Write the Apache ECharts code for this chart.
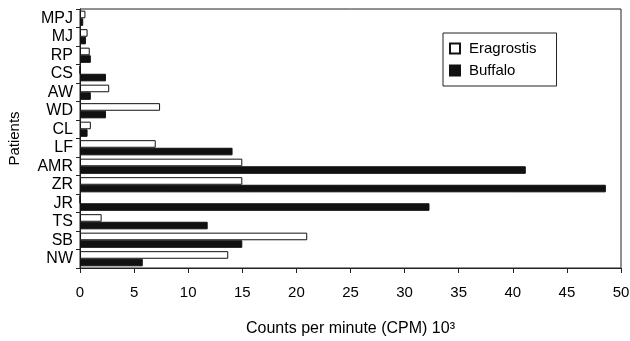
<!DOCTYPE html>
<html><head><meta charset="utf-8">
<script src="https://cdn.jsdelivr.net/npm/echarts@6/dist/echarts.min.js"></script>
<style>html,body{margin:0;padding:0;background:#fff}#c{width:630px;height:341px}</style>
</head><body><div id="c"></div>
<script>
const patients = ['MPJ','MJ','RP','CS','AW','WD','CL','LF','AMR','ZR','JR','TS','SB','NW'];
const eragrostis = [0.5,0.7,0.9,0,2.7,7.4,1.0,7.0,15.0,15.0,0,2.0,21.0,13.7];
const buffalo = [0.3,0.55,1.0,2.4,1.0,2.4,0.7,14.1,41.2,48.6,32.3,11.8,15.0,5.8];
const xTicks = [0,5,10,15,20,25,30,35,40,45,50];

const chart = echarts.init(document.getElementById('c'));
const font = 'Liberation Sans, Arial, sans-serif';
chart.setOption({
  animation:false,
  backgroundColor:'#fff',
  grid:{left:80,right:9,top:9,bottom:73,show:true,borderColor:'#222',borderWidth:1,
        containLabel:false,outerBoundsMode:'none'},
  legend:{
    orient:'vertical',left:443,top:33,itemWidth:10,itemHeight:10,itemGap:7,
    icon:'rect',
    padding:[8,20,8,6],
    borderColor:'#222',borderWidth:1,
    textStyle:{fontFamily:font,fontSize:15,color:'#000',padding:[0,0,0,4]},
    data:['Eragrostis','Buffalo']
  },
  xAxis:{
    type:'value',min:xTicks[0],max:xTicks[xTicks.length-1],interval:5,
    name:'Counts per minute (CPM) 10\u00B3',nameLocation:'middle',nameGap:53,
    nameTextStyle:{fontFamily:font,fontSize:16,color:'#000'},
    axisLine:{show:true,lineStyle:{color:'#222'}},
    axisTick:{show:true,length:5,lineStyle:{color:'#222'}},
    axisLabel:{fontFamily:font,fontSize:15,color:'#000',margin:17},
    splitLine:{show:false}
  },
  yAxis:{
    type:'category',data:patients,inverse:true,
    name:'Patients',nameLocation:'middle',nameGap:58,nameRotate:90,
    nameTextStyle:{fontFamily:font,fontSize:15,color:'#000'},
    axisLine:{show:true,lineStyle:{color:'#222'}},
    axisTick:{show:true,length:4,lineStyle:{color:'#222'}},
    axisLabel:{fontFamily:font,fontSize:16,color:'#000',margin:7,interval:0,hideOverlap:false}
  },
  series:[
    {name:'Eragrostis',type:'bar',data:eragrostis,barGap:'0%',barCategoryGap:'18%',
     itemStyle:{color:'#fff',borderColor:'#111',borderWidth:1}},
    {name:'Buffalo',type:'bar',data:buffalo,
     itemStyle:{color:'#111',borderColor:'#111',borderWidth:1}}
  ]
});
</script></body></html>
